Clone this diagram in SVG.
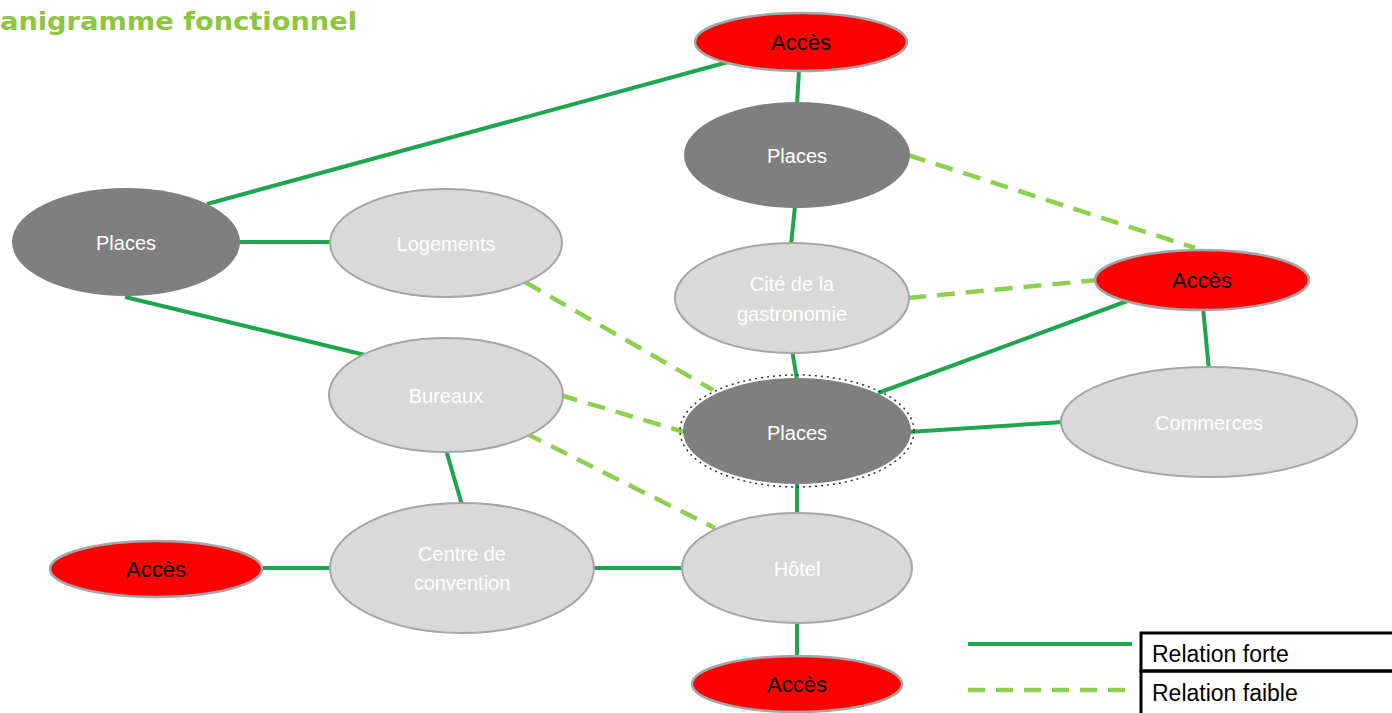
<svg xmlns="http://www.w3.org/2000/svg" width="1392" height="713" viewBox="0 0 1392 713">
<style>
.strong{stroke:#1ea54f;stroke-width:4;fill:none;stroke-linecap:butt}
.weak{stroke:#8fcf4f;stroke-width:4.5;fill:none;stroke-dasharray:18 11}
.dark{fill:#7f7f7f;stroke:none}
.light{fill:#d9d9d9;stroke:#a6a6a6;stroke-width:2}
.red{fill:#ff0000;stroke:#a6a6a6;stroke-width:2.5}
.wt{fill:#ffffff;font-family:"Liberation Sans",Arial,sans-serif;font-size:20px;text-anchor:middle}
.bt{fill:#000000;font-family:"Liberation Sans",Arial,sans-serif;font-size:22px;text-anchor:middle}
.lg{fill:#000000;font-family:"Liberation Sans",Arial,sans-serif;font-size:23px}
</style>
<rect width="1392" height="713" fill="#ffffff"/>
<text x="0" y="30" font-family="'DejaVu Sans',sans-serif" font-weight="bold" font-size="25" fill="#8dc641" textLength="357" lengthAdjust="spacingAndGlyphs">anigramme fonctionnel</text>
<g id="connectors">
<line class="strong" x1="728" y1="62" x2="207" y2="204"/>
<line class="strong" x1="799" y1="70" x2="797" y2="105"/>
<line class="weak" x1="908" y1="155" x2="1195" y2="248"/>
<line class="strong" x1="795" y1="206" x2="791" y2="245"/>
<line class="weak" x1="908" y1="298" x2="1098" y2="280"/>
<line class="strong" x1="792" y1="350" x2="797" y2="380"/>
<line class="strong" x1="1130" y1="300" x2="878" y2="393"/>
<line class="strong" x1="1203" y1="308" x2="1209" y2="370"/>
<line class="strong" x1="908" y1="432" x2="1063" y2="422"/>
<line class="strong" x1="797" y1="483" x2="797" y2="515"/>
<line class="strong" x1="797" y1="620" x2="797" y2="657"/>
<line class="strong" x1="238" y1="242" x2="332" y2="242"/>
<line class="strong" x1="125" y1="297" x2="365" y2="355"/>
<line class="weak" x1="525" y1="282" x2="713" y2="390"/>
<line class="weak" x1="560" y1="395" x2="684" y2="432"/>
<line class="weak" x1="525" y1="433" x2="715" y2="528"/>
<line class="strong" x1="446" y1="450" x2="462" y2="505"/>
<line class="strong" x1="260" y1="568" x2="332" y2="568"/>
<line class="strong" x1="592" y1="568" x2="684" y2="568"/>
</g>
<g id="acces-top"><ellipse class="red" cx="801" cy="42" rx="106" ry="29"/><text class="bt" x="801" y="50">Accès</text></g>
<g id="places-top"><ellipse class="dark" cx="797" cy="155" rx="113" ry="53"/><text class="wt" x="797" y="163">Places</text></g>
<g id="cite"><ellipse class="light" cx="792" cy="298" rx="117" ry="55"/><text class="wt" x="792" y="291">Cité de la</text><text class="wt" x="792" y="321">gastronomie</text></g>
<g id="places-center"><ellipse cx="797" cy="431" rx="117" ry="56" fill="none" stroke="#333" stroke-width="1.5" stroke-dasharray="2 4"/><ellipse class="dark" cx="797" cy="431" rx="114" ry="53"/><text class="wt" x="797" y="440">Places</text></g>
<g id="hotel"><ellipse class="light" cx="797" cy="568" rx="115" ry="55"/><text class="wt" x="797" y="576">Hôtel</text></g>
<g id="acces-bottom"><ellipse class="red" cx="797" cy="684" rx="105" ry="28"/><text class="bt" x="797" y="692">Accès</text></g>
<g id="acces-right"><ellipse class="red" cx="1202" cy="280" rx="107" ry="30"/><text class="bt" x="1202" y="288">Accès</text></g>
<g id="commerces"><ellipse class="light" cx="1209" cy="422" rx="148" ry="55"/><text class="wt" x="1209" y="430">Commerces</text></g>
<g id="places-left"><ellipse class="dark" cx="126" cy="242" rx="114" ry="54"/><text class="wt" x="126" y="250">Places</text></g>
<g id="logements"><ellipse class="light" cx="446" cy="243" rx="116" ry="54"/><text class="wt" x="446" y="251">Logements</text></g>
<g id="bureaux"><ellipse class="light" cx="446" cy="395" rx="117" ry="57"/><text class="wt" x="446" y="403">Bureaux</text></g>
<g id="centre"><ellipse class="light" cx="462" cy="568" rx="132" ry="65"/><text class="wt" x="462" y="561">Centre de</text><text class="wt" x="462" y="590">convention</text></g>
<g id="acces-left"><ellipse class="red" cx="156" cy="569" rx="106" ry="28"/><text class="bt" x="156" y="577">Accès</text></g>
<g id="legend">
<line class="strong" x1="968" y1="644" x2="1132" y2="644"/>
<line class="weak" x1="968" y1="690" x2="1132" y2="690" style="stroke-dasharray:17 11"/>
<rect x="1141" y="633" width="260" height="38" fill="none" stroke="#000" stroke-width="3"/>
<rect x="1141" y="671" width="260" height="50" fill="none" stroke="#000" stroke-width="3"/>
<text class="lg" x="1152" y="662">Relation forte</text>
<text class="lg" x="1152" y="701">Relation faible</text>
</g>
</svg>
